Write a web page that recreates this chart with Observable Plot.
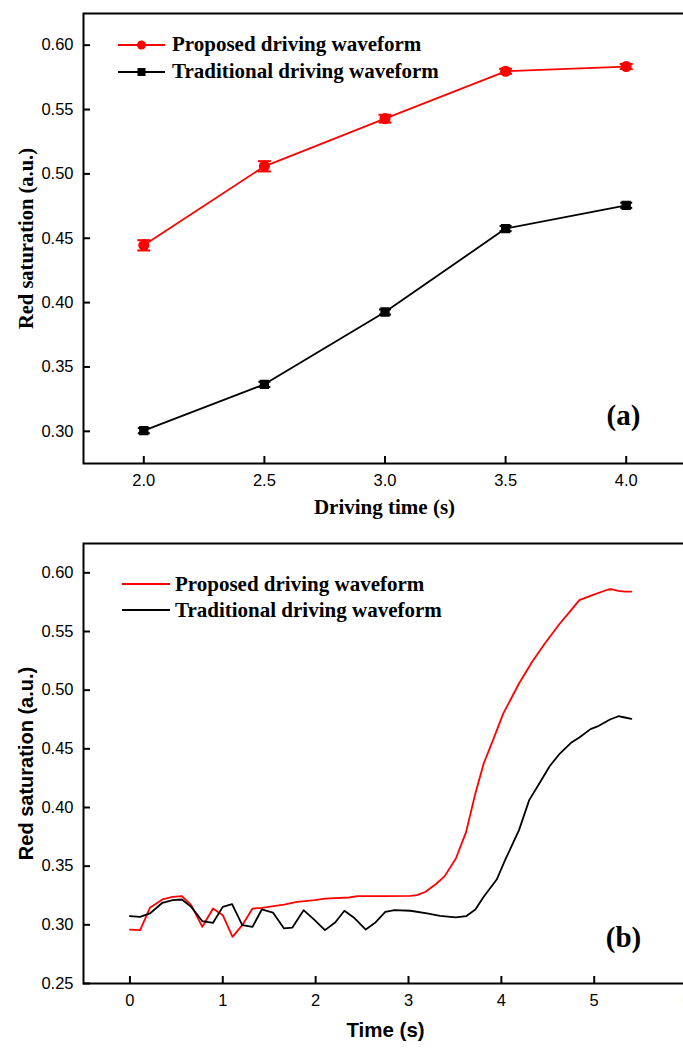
<!DOCTYPE html>
<html><head><meta charset="utf-8">
<script src="https://cdn.jsdelivr.net/npm/d3@7"></script>
<script src="https://cdn.jsdelivr.net/npm/@observablehq/plot@0.6"></script>
<style>
html,body{margin:0;padding:0;background:#fff;overflow:hidden;}
#wrap{position:relative;width:683px;height:1055px;overflow:hidden;background:#fff;}
#wrap svg.panel{position:absolute;left:0;max-width:none !important;height:auto;}
.legend{position:absolute;font-family:"Liberation Serif","Times New Roman",serif;font-weight:bold;font-size:21px;color:#000;}
.legend .row{display:flex;align-items:center;white-space:nowrap;}
.legend svg{display:block;}
</style></head>
<body>
<div id="wrap"></div>
<script>
// ---- Panel (a) data ----
const drivingTime = [2.0, 2.5, 3.0, 3.5, 4.0];
const proposedSat = [0.4445, 0.5059, 0.5429, 0.5797, 0.5834];
const proposedErr = [0.004, 0.004, 0.003, 0.002, 0.002];
const traditionalSat = [0.3005, 0.3365, 0.3927, 0.4575, 0.4756];
const traditionalErr = [0.002, 0.002, 0.002, 0.002, 0.002];
const xTicksA = [2.0, 2.5, 3.0, 3.5, 4.0];
const yTicksA = [0.30, 0.35, 0.40, 0.45, 0.50, 0.55, 0.60];

// ---- Panel (b) data ----
const timeProposed = [0, 0.11, 0.215, 0.35, 0.46, 0.56, 0.66, 0.78, 0.895, 1.0, 1.105, 1.21, 1.32, 1.42, 1.66, 1.80, 1.99, 2.10, 2.36, 2.45, 2.74, 3.02, 3.09, 3.18, 3.30, 3.39, 3.51, 3.62, 3.72, 3.81, 3.91, 4.02, 4.19, 4.33, 4.47, 4.63, 4.72, 4.84, 4.98, 5.15, 5.19, 5.26, 5.33, 5.40];
const satProposed = [0.296, 0.2955, 0.3145, 0.3216, 0.3239, 0.3244, 0.3168, 0.2983, 0.3139, 0.3082, 0.2898, 0.2997, 0.3139, 0.3145, 0.3173, 0.3196, 0.321, 0.3224, 0.3233, 0.3244, 0.3244, 0.3247, 0.3253, 0.328, 0.335, 0.3415, 0.3565, 0.379, 0.412, 0.4375, 0.4574, 0.480, 0.5057, 0.524, 0.540, 0.5568, 0.5653, 0.5767, 0.581, 0.5858, 0.586, 0.5847, 0.584, 0.584];
const timeTraditional = [0, 0.11, 0.215, 0.35, 0.46, 0.56, 0.66, 0.78, 0.895, 1.0, 1.10, 1.21, 1.32, 1.42, 1.54, 1.66, 1.75, 1.87, 1.99, 2.10, 2.21, 2.31, 2.41, 2.54, 2.64, 2.75, 2.85, 3.02, 3.20, 3.34, 3.51, 3.62, 3.72, 3.81, 3.95, 4.04, 4.19, 4.30, 4.42, 4.52, 4.63, 4.75, 4.84, 4.96, 5.05, 5.17, 5.26, 5.33, 5.40];
const satTraditional = [0.3074, 0.3068, 0.3097, 0.3188, 0.321, 0.3216, 0.3153, 0.3031, 0.3017, 0.3153, 0.3176, 0.2997, 0.2983, 0.3131, 0.3105, 0.2969, 0.2977, 0.3125, 0.304, 0.2955, 0.302, 0.312, 0.3063, 0.296, 0.3017, 0.3111, 0.3125, 0.312, 0.3097, 0.3077, 0.3063, 0.3074, 0.3131, 0.3239, 0.3386, 0.3551, 0.3807, 0.4063, 0.4219, 0.4352, 0.446, 0.4551, 0.4597, 0.4668, 0.4696, 0.475, 0.4778, 0.4767, 0.4756];
const xTicksB = [0, 1, 2, 3, 4, 5, 6];
const yTicksB = [0.25, 0.30, 0.35, 0.40, 0.45, 0.50, 0.55, 0.60];

const seriesNames = ["Proposed driving waveform", "Traditional driving waveform"];
const RED = "#ff0000", BLACK = "#000000";

const serif = "'Liberation Serif','Times New Roman',serif";
const sans = "'Liberation Sans',Arial,sans-serif";
const TICK_FS = 16.5;

const capSymbol = {draw(ctx, size) { const w = Math.sqrt(size / Math.PI); ctx.moveTo(-w, 0); ctx.lineTo(w, 0); }};

const rowsP = drivingTime.map((t, i) => ({t, v: proposedSat[i], e: proposedErr[i]}));
const rowsT = drivingTime.map((t, i) => ({t, v: traditionalSat[i], e: traditionalErr[i]}));

function errMarks(rows, color, capR) {
  return [
    Plot.ruleX(rows, {x: "t", y1: d => d.v - d.e, y2: d => d.v + d.e, stroke: color, strokeWidth: 2.5}),
    Plot.dot(rows, {x: "t", y: d => d.v + d.e, symbol: capSymbol, r: capR, stroke: color, strokeWidth: 2, fill: "none"}),
    Plot.dot(rows, {x: "t", y: d => d.v - d.e, symbol: capSymbol, r: capR, stroke: color, strokeWidth: 2, fill: "none"})
  ];
}

function frameAxes(xTicks, yTicks, xFmt, innerW, innerH) {
  return [
    Plot.axisY({ticks: yTicks, tickFormat: d3.format(".2f"), tickSize: 0, tickPadding: 10, label: null, fontSize: TICK_FS, fontFamily: sans}),
    Plot.axisX({ticks: xTicks, tickFormat: xFmt, tickSize: 0, tickPadding: 11, label: null, fontSize: TICK_FS, fontFamily: sans}),
    Plot.ruleX(xTicks, {x: d => d, insetTop: innerH - 7, stroke: "black", strokeWidth: 2}),
    Plot.ruleY(yTicks, {y: d => d, insetRight: innerW - 7, stroke: "black", strokeWidth: 2}),
    Plot.frame({stroke: "black", strokeWidth: 2})
  ];
}

const centered = {textAnchor: "middle", lineAnchor: "middle", fill: "black"};
const wrap = document.getElementById("wrap");

// ---------------- Panel (a) ----------------
const wA = 690, hA = 520, mlA = 83, mrA = 4, mtA = 13, mbA = 57;
const plotA = Plot.plot({
  width: wA, height: hA,
  marginLeft: mlA, marginRight: mrA, marginTop: mtA, marginBottom: mbA,
  x: {domain: [1.75, 4.25]},
  y: {domain: [0.275, 0.6246]},
  style: {fontFamily: sans, color: "#000", background: "transparent", overflow: "visible"},
  marks: [
    ...frameAxes(xTicksA, yTicksA, d3.format(".1f"), wA - mlA - mrA, hA - mtA - mbA),
    Plot.line(rowsP, {x: "t", y: "v", stroke: RED, strokeWidth: 1.8}),
    Plot.line(rowsT, {x: "t", y: "v", stroke: BLACK, strokeWidth: 1.8}),
    ...errMarks(rowsP, RED, 6.5),
    ...errMarks(rowsT, BLACK, 6),
    Plot.dot(rowsP, {x: "t", y: "v", r: 4.8, fill: RED, stroke: RED}),
    Plot.dot(rowsT, {x: "t", y: "v", r: 4.4, symbol: "square", fill: BLACK, stroke: BLACK}),
    Plot.text(["Driving time (s)"], {...centered, text: d => d, frameAnchor: "bottom-left", dx: 301, dy: 44, fontFamily: serif, fontWeight: "bold", fontSize: 21}),
    Plot.text(["Red saturation (a.u.)"], {...centered, text: d => d, frameAnchor: "left", dx: -57, rotate: -90, fontFamily: serif, fontWeight: "bold", fontSize: 20.5}),
    Plot.text(["(a)"], {...centered, text: d => d, frameAnchor: "bottom-left", dx: 540, dy: -48, fontFamily: serif, fontWeight: "bold", fontSize: 29})
  ]
});
plotA.classList.add("panel");
plotA.style.top = "0px";
wrap.appendChild(plotA);

// ---------------- Panel (b) ----------------
const wB = 736, hB = 535, mlB = 83, mrB = 3, mtB = 23, mbB = 72;
const rowsBP = timeProposed.map((t, i) => ({t, v: satProposed[i]}));
const rowsBT = timeTraditional.map((t, i) => ({t, v: satTraditional[i]}));
const plotB = Plot.plot({
  width: wB, height: hB,
  marginLeft: mlB, marginRight: mrB, marginTop: mtB, marginBottom: mbB,
  x: {domain: [-0.5, 6.5]},
  y: {domain: [0.25, 0.625]},
  style: {fontFamily: sans, color: "#000", background: "transparent", overflow: "visible"},
  marks: [
    ...frameAxes(xTicksB, yTicksB, d => String(d), wB - mlB - mrB, hB - mtB - mbB),
    Plot.line(rowsBP, {x: "t", y: "v", stroke: RED, strokeWidth: 1.8}),
    Plot.line(rowsBT, {x: "t", y: "v", stroke: BLACK, strokeWidth: 1.8}),
    Plot.text(["Time (s)"], {...centered, text: d => d, frameAnchor: "bottom-left", dx: 302, dy: 47, fontFamily: sans, fontWeight: "bold", fontSize: 20.5}),
    Plot.text(["Red saturation (a.u.)"], {...centered, text: d => d, frameAnchor: "left", dx: -57, rotate: -90, fontFamily: sans, fontWeight: "bold", fontSize: 20}),
    Plot.text(["(b)"], {...centered, text: d => d, frameAnchor: "bottom-left", dx: 540, dy: -46, fontFamily: serif, fontWeight: "bold", fontSize: 29})
  ]
});
plotB.classList.add("panel");
plotB.style.top = "520px";
wrap.appendChild(plotB);

// ---------------- Legends (HTML overlays) ----------------
function legend(top, left, rowH, lineW, gap, withMarkers) {
  const div = document.createElement("div");
  div.className = "legend";
  div.style.top = top + "px";
  div.style.left = left + "px";
  seriesNames.forEach((name, i) => {
    const color = i === 0 ? RED : BLACK;
    const row = document.createElement("div");
    row.className = "row";
    row.style.height = rowH + "px";
    const ns = "http://www.w3.org/2000/svg";
    const svg = document.createElementNS(ns, "svg");
    svg.setAttribute("width", lineW);
    svg.setAttribute("height", 14);
    svg.style.marginRight = gap + "px";
    const ln = document.createElementNS(ns, "line");
    ln.setAttribute("x1", 0); ln.setAttribute("x2", lineW);
    ln.setAttribute("y1", 7); ln.setAttribute("y2", 7);
    ln.setAttribute("stroke", color); ln.setAttribute("stroke-width", 2);
    svg.appendChild(ln);
    if (withMarkers) {
      let m;
      if (i === 0) {
        m = document.createElementNS(ns, "circle");
        m.setAttribute("cx", lineW / 2); m.setAttribute("cy", 7); m.setAttribute("r", 4.5);
      } else {
        m = document.createElementNS(ns, "rect");
        m.setAttribute("x", lineW / 2 - 4); m.setAttribute("y", 3); m.setAttribute("width", 8); m.setAttribute("height", 8);
      }
      m.setAttribute("fill", color);
      svg.appendChild(m);
    }
    row.appendChild(svg);
    const sp = document.createElement("span");
    sp.textContent = name;
    row.appendChild(sp);
    div.appendChild(row);
  });
  wrap.appendChild(div);
}
legend(31, 118, 27, 47, 7, true);
legend(571, 122, 26, 48, 5, false);
</script>
</body></html>
